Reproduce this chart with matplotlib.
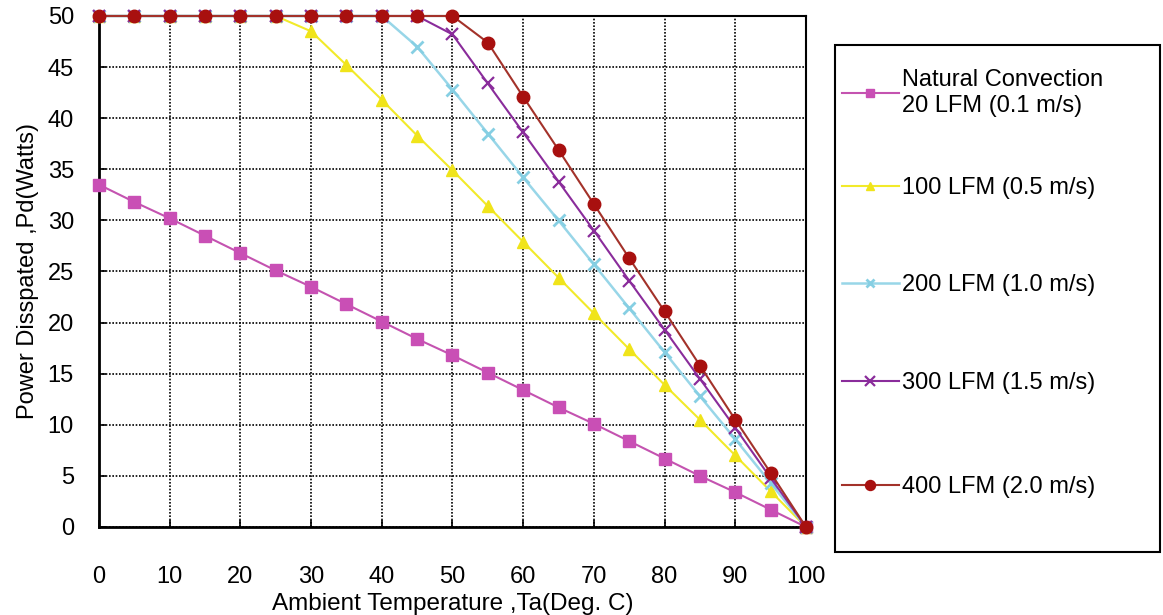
import matplotlib
matplotlib.use("Agg")
from matplotlib import pyplot as plt
from matplotlib.patches import Rectangle

plt.rcParams['font.family'] = ['Liberation Sans', 'DejaVu Sans']

# ambient temperature (deg C)
temps = [0, 5, 10, 15, 20, 25, 30, 35, 40, 45, 50,
         55, 60, 65, 70, 75, 80, 85, 90, 95, 100]

# power dissipated (W) per air flow
natural = [33.5, 31.8, 30.2, 28.5, 26.8, 25.1, 23.5, 21.8, 20.1, 18.4, 16.8,
           15.1, 13.4, 11.7, 10.1, 8.4, 6.7, 5.0, 3.4, 1.7, 0.0]
lfm100 = [50, 50, 50, 50, 50, 50, 48.5, 45.2, 41.8, 38.3, 34.9,
          31.4, 27.9, 24.4, 20.9, 17.4, 13.9, 10.5, 7.0, 3.5, 0.0]
lfm200 = [50, 50, 50, 50, 50, 50, 50, 50, 50, 47.0, 42.8,
          38.5, 34.2, 30.0, 25.7, 21.4, 17.1, 12.8, 8.6, 4.3, 0.0]
lfm300 = [50, 50, 50, 50, 50, 50, 50, 50, 50, 50, 48.2,
          43.4, 38.6, 33.8, 29.0, 24.1, 19.3, 14.5, 9.7, 4.8, 0.0]
lfm400 = [50, 50, 50, 50, 50, 50, 50, 50, 50, 50, 50,
          47.4, 42.1, 36.9, 31.6, 26.3, 21.1, 15.8, 10.5, 5.3, 0.0]

labels = ['Natural Convection\n20 LFM (0.1 m/s)', '100 LFM (0.5 m/s)',
          '200 LFM (1.0 m/s)', '300 LFM (1.5 m/s)', '400 LFM (2.0 m/s)']

fig = plt.figure(figsize=(11.63, 6.15), dpi=100)
ax = fig.add_axes([0.0851, 0.1431, 0.6079, 0.8309])

ax.plot(temps, natural, color='#c453b0', marker='s', markersize=8,
        markerfacecolor='#c94fb5', markeredgecolor='#c94fb5', lw=1.5,
        label=labels[0], clip_on=False, zorder=3)
ax.plot(temps, lfm100, color='#f2ea2a', marker='^', markersize=8,
        markerfacecolor='#f0e41a', markeredgecolor='#f0e41a', lw=1.5,
        label=labels[1], clip_on=False, zorder=3)
ax.plot(temps, lfm200, color='#98d6e8', marker='x', markersize=8, mew=2,
        markeredgecolor='#86cfe3', lw=1.8,
        label=labels[2], clip_on=False, zorder=3)
ax.plot(temps, lfm300, color='#8a2c9b', marker='x', markersize=9, mew=1.6,
        markeredgecolor='#8a2c9b', lw=1.5,
        label=labels[3], clip_on=False, zorder=3)
ax.plot(temps, lfm400, color='#a3322a', marker='o', markersize=9,
        markerfacecolor='#a8100f', markeredgecolor='#a8100f', lw=1.5,
        label=labels[4], clip_on=False, zorder=4)

ax.set_xlim(0, 100)
ax.set_ylim(0, 50)
ax.set_xticks(range(0, 101, 10))
ax.set_yticks(range(0, 51, 5))
ax.grid(True, color='black', linestyle=(0, (1, 1)), linewidth=1.2)
ax.tick_params(direction='in', length=5, width=1.2, labelsize=17)
ax.tick_params(axis='x', pad=28)
ax.tick_params(axis='y', pad=18)
for side in ['left', 'bottom']:
    ax.spines[side].set_linewidth(2)
for side in ['top', 'right']:
    ax.spines[side].set_linewidth(1.5)

ax.set_xlabel('Ambient Temperature ,Ta(Deg. C)', fontsize=17.5, labelpad=4)
ax.set_ylabel('Power Disspated ,Pd(Watts)', fontsize=17, labelpad=6)

# legend box, one entry per row placed to match the original spacing
fig.patches.append(Rectangle((835 / 1163, 1 - 552 / 615), 325 / 1163, 507 / 615,
                             transform=fig.transFigure, fill=False,
                             edgecolor='black', linewidth=1.5))
handles, lbls = ax.get_legend_handles_labels()
row_y = [93, 188, 285, 383, 487]
for h, lab, y in zip(handles, lbls, row_y):
    leg = fig.legend([h], [lab], loc='center left',
                     bbox_to_anchor=(842 / 1163, 1 - y / 615), frameon=False,
                     fontsize=17, handlelength=2.4, handletextpad=0.15,
                     borderpad=0, borderaxespad=0, markerscale=0.8)

plt.savefig('out.png', dpi=100)
